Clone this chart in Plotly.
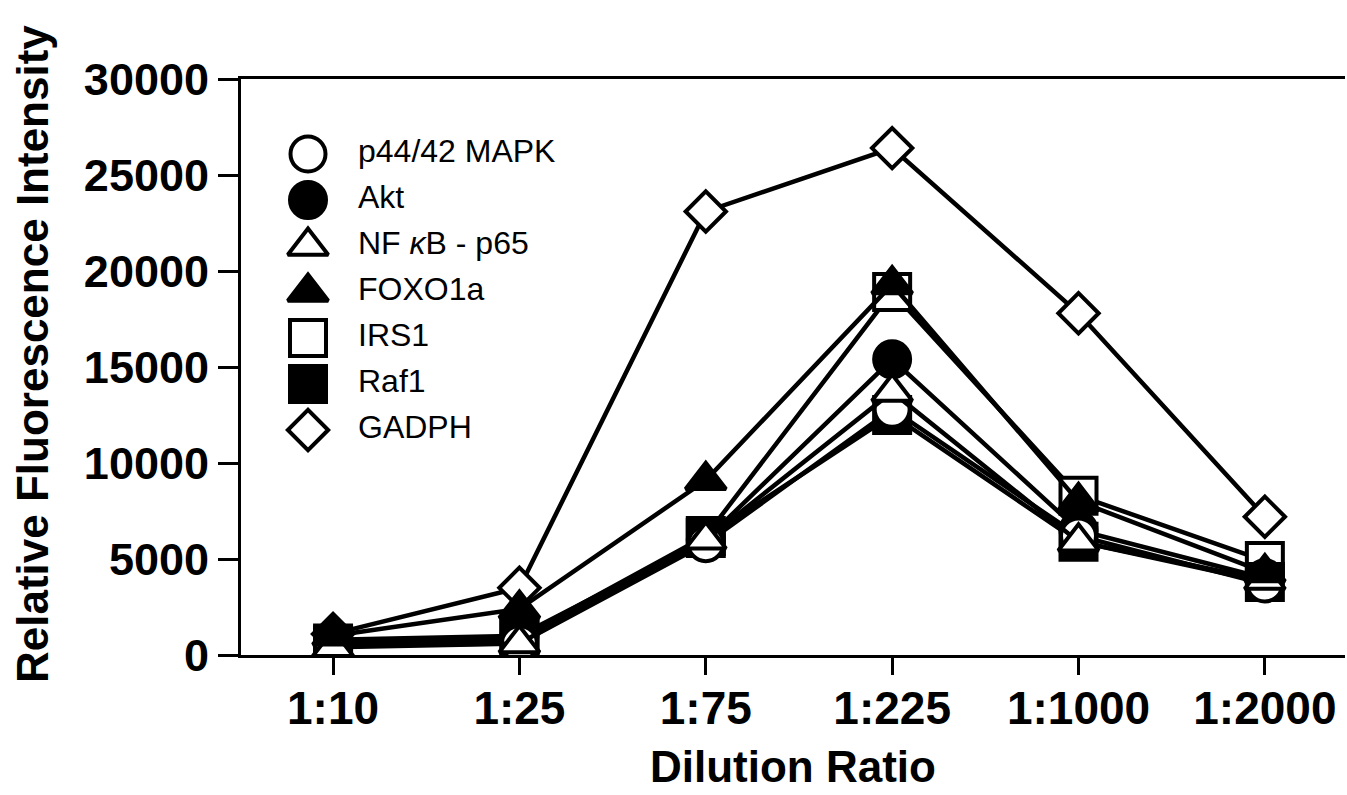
import plotly.graph_objects as go

# ---------------- data ----------------
categories = ["1:10", "1:25", "1:75", "1:225", "1:1000", "1:2000"]
p44_42_mapk = [500, 600, 5800, 12800, 6200, 3700]
akt = [800, 1000, 6000, 15400, 6500, 4000]
nfkb_p65 = [400, 600, 6000, 13700, 5900, 3900]
foxo1a = [1000, 2400, 9100, 19300, 8000, 4300]
irs1 = [600, 900, 6200, 18900, 8300, 4900]
raf1 = [500, 800, 6100, 12500, 5900, 3800]
gadph = [1100, 3500, 23100, 26400, 17800, 7200]

series_names = ["p44/42 MAPK", "Akt", "NF <i>κ</i>B - p65", "FOXO1a", "IRS1", "Raf1", "GADPH"]
series_values = [p44_42_mapk, akt, nfkb_p65, foxo1a, irs1, raf1, gadph]
y_tick_values = [0, 5000, 10000, 15000, 20000, 25000, 30000]
y_tick_text = [str(v) for v in y_tick_values]
x_title = "Dilution Ratio"
y_title = "Relative Fluorescence Intensity"

# ---------------- styles ----------------
symbols = ["circle", "circle", "triangle-up", "triangle-up", "square", "square", "diamond"]
fills = ["white", "black", "white", "black", "white", "black", "white"]
sizes = [35, 36, 35, 35, 36, 36, 31]
# drawing order, bottom to top (indices into series lists)
draw_order = [6, 4, 5, 1, 0, 2, 3]

fig = go.Figure()

for i in draw_order:
    fig.add_trace(go.Scatter(
        x=categories, y=series_values[i], mode="lines+markers",
        name=series_names[i], showlegend=False,
        line=dict(color="black", width=4.5),
        marker=dict(symbol=symbols[i], size=sizes[i], color=fills[i],
                    line=dict(color="black", width=4)),
    ))

# custom legend (large markers) on an overlay axis measured in plot pixels
plot_w, plot_h = 1104, 576
leg_x_marker = 67
leg_x_text = 117
leg_y = [655 - (154 + 46 * k) for k in range(len(series_names))]
for i in range(len(series_names)):
    fig.add_trace(go.Scatter(
        x=[leg_x_marker], y=[leg_y[i]], mode="markers", xaxis="x2", yaxis="y2",
        showlegend=False, hoverinfo="skip",
        marker=dict(symbol=symbols[i], size=sizes[i], color=fills[i],
                    line=dict(color="black", width=4)),
    ))
fig.add_trace(go.Scatter(
    x=[leg_x_text] * len(series_names), y=leg_y, mode="text", xaxis="x2", yaxis="y2",
    text=series_names, textposition="middle right", showlegend=False, hoverinfo="skip",
    textfont=dict(family="Liberation Sans, Arial, sans-serif", size=32, color="black"),
))

font_family = "Liberation Sans, Arial, sans-serif"
title_font = dict(family=font_family, size=44, color="black", weight="bold")

fig.update_layout(
    width=1347, height=795,
    margin=dict(l=241, r=2, t=79, b=140),
    paper_bgcolor="white", plot_bgcolor="white",
    showlegend=False,
    xaxis=dict(
        type="category", range=[-0.494, 5.43],
        showline=True, linecolor="black", linewidth=3, mirror=True,
        ticks="outside", ticklen=17, tickwidth=3, tickcolor="black",
        showgrid=False, zeroline=False,
        tickfont=dict(family=font_family, size=46, color="black", weight="bold"),
        ticklabelstandoff=-6,
        automargin=False,
    ),
    yaxis=dict(
        range=[0, 30000], tickvals=y_tick_values, ticktext=y_tick_text,
        showline=True, linecolor="black", linewidth=3, mirror=False,
        ticks="outside", ticklen=20, tickwidth=3, tickcolor="black",
        showgrid=False, zeroline=False,
        tickfont=dict(family=font_family, size=45, color="black", weight="bold"),
        automargin=False,
    ),
    xaxis2=dict(overlaying="x", range=[0, plot_w], visible=False, fixedrange=True),
    yaxis2=dict(overlaying="y", range=[0, plot_h], visible=False, fixedrange=True),
    annotations=[
        dict(text=x_title, xref="paper", yref="paper", x=0.5, y=(655 - 766) / plot_h,
             xanchor="center", yanchor="middle", showarrow=False, font=title_font),
        dict(text=y_title, xref="paper", yref="paper", x=(32 - 241) / plot_w,
             y=(655 - 354) / plot_h, xanchor="center", yanchor="middle",
             textangle=-90, showarrow=False, font=title_font),
    ],
)

fig.write_html("out.html", config={"displayModeBar": False},
               post_script="document.body.style.margin='0';")
